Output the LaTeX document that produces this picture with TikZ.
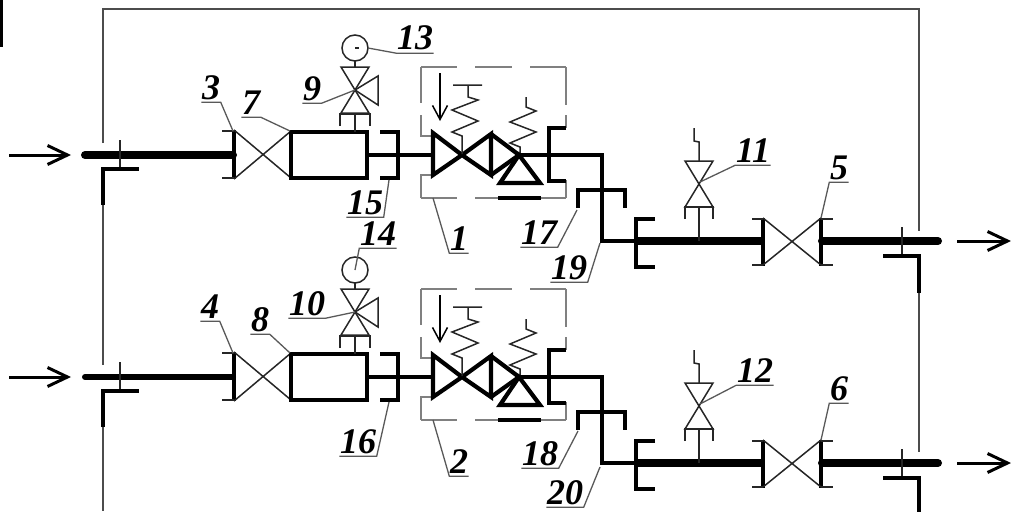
\documentclass[tikz,border=0pt]{standalone}
\usepackage{fontspec}
\setmainfont{Liberation Serif}
\usetikzlibrary{arrows.meta}
\definecolor{linegrey}{gray}{0.3}
\tikzset{
	thinline/.style = {line width=1.5pt, draw=black!85},
	frameline/.style = {line width=1.5pt, draw=linegrey},
	medline/.style = {line width=3.3pt, draw=black},
	heavyline/.style = {line width=4.2pt, draw=black, line join=miter},
	greyline/.style = {line width=1.5pt, draw=black!50},
	bigarrow/.style = {line width=3pt, draw=black, -{Straight Barb[length=20pt,width=19pt,line width=3pt]}},
	numlab/.style = {font=\fontsize{36}{36}\selectfont\bfseries\itshape, inner xsep=0.5pt, inner ysep=3pt, text height=24pt, text depth=0pt, anchor=center},
	leader/.style = {line width=1.3pt, draw=black!65},
	pics/branch/.style = {code={
		% inlet
		\draw[bigarrow] (9,155) -- (71,155);
		\draw[line width=#1pt, line cap=round] (85,155) -- (233,155);
		\draw[thinline] (120,140) -- (120,169);
		\draw[heavyline] (103,205) -- (103,169) -- (139,169);
		% valve and filter
		\draw[heavyline] (234,130) -- (234,179);
		\draw[thinline] (222,131) -- (234,131) (222,178) -- (234,178);
		\draw[thinline] (234,130) -- (291,178) (234,179) -- (291,131);
		\draw[heavyline] (291,132) rectangle (367,178);
		\draw[medline] (367,155) -- (398,155);
		\draw[heavyline] (380,132) -- (398,132) -- (398,178) -- (380,178);
		% gauge
		\draw[thinline] (355,48) circle (13);
		\draw[thinline] (355,61) -- (355,67);
		\draw[thinline] (341,67) -- (369,67) -- (341,113) -- (369,113) -- cycle;
		\draw[thinline] (355,90) -- (378,76) -- (378,105) -- cycle;
		\draw[thinline] (340,126) -- (340,114) -- (370,114) -- (370,126) (355,114) -- (355,132);
		% regulator box
		\draw[greyline] (421,67) -- (457,67) (475,67) -- (512,67) (530,67) -- (566,67);
		\draw[greyline] (421,67) -- (421,103) (421,115) -- (421,137) (421,174) -- (421,198);
		\draw[greyline] (566,67) -- (566,105) (566,115) -- (566,128) (566,180) -- (566,198);
		\draw[greyline] (421,198) -- (457,198) (475,198) -- (498,198) (541,198) -- (566,198);
		\draw[greyline] (421,136) -- (433,136) (421,175) -- (433,175);
		\draw[medline] (398,155) -- (433,155);
		\draw[heavyline] (433,133) -- (462,155) -- (433,175) -- cycle;
		\draw[heavyline] (462,155) -- (491,134) -- (491,175) -- cycle;
		\draw[heavyline] (491,134) -- (519,155) -- (491,175);
		\draw[heavyline] (519,155) -- (540,183) -- (500,183) -- cycle;
		\draw[heavyline] (498,198) -- (541,198);
		\draw[line width=1.5pt, draw=black, -{Straight Barb[length=14pt,width=15pt,line width=1.5pt]}] (440,73) -- (440,121);
		\draw[thinline] (453,85) -- (482,85) (468,85) -- (468,97) -- (478,100) -- (452,110) -- (478,121) -- (452,132) -- (462,136) -- (462,154);
		\draw[thinline] (526,97) -- (526,107) -- (536,111) -- (510,122) -- (536,132) -- (510,143) -- (520,147) -- (520,155);
		% outlet line
		\draw[medline, line join=miter] (519,155) -- (602,155) -- (602,241) -- (636,241);
		\draw[heavyline] (566,128) -- (549,128) -- (549,181) -- (566,181);
		\draw[heavyline] (578,208) -- (578,190) -- (625,190) -- (625,208);
		\draw[heavyline] (655,219) -- (636,219) -- (636,267) -- (655,267);
		\draw[line width=8pt] (636,241) -- (763,241);
		% relief valve
		\draw[thinline] (699,241) -- (699,207);
		\draw[thinline] (685,219) -- (685,207) -- (713,207) -- (713,219);
		\draw[thinline] (685,161) -- (713,161) -- (685,207) -- (713,207) -- cycle;
		\draw[thinline] (699,161) -- (699,142) -- (694,141) -- (694,128);
		% outlet valve
		\draw[heavyline] (763,218) -- (763,266);
		\draw[heavyline] (821,218) -- (821,266);
		\draw[thinline] (752,219) -- (763,219) (752,265) -- (763,265) (821,219) -- (833,219) (821,265) -- (833,265);
		\draw[thinline] (763,218) -- (821,265) (763,265) -- (821,218);
		\draw[line width=8pt, line cap=round] (822,241) -- (938,241);
		\draw[thinline] (902,227) -- (902,255);
		\draw[heavyline] (883,256) -- (919,256) -- (919,293);
		\draw[bigarrow] (957,241) -- (1011,241);
	}}
}
\begin{document}
\begin{tikzpicture}[x=1pt,y=-1pt]
\useasboundingbox (0,0) rectangle (1011,511);
\fill (0,0) rectangle (3,47);
\draw[frameline] (103,143) -- (103,9) -- (919,9) -- (919,231);
\draw[frameline] (103,205) -- (103,365) (103,427) -- (103,511);
\draw[frameline] (919,293) -- (919,452);
\pic at (0,0) {branch=8};
\pic at (0,222) {branch=6};
\draw[thinline] (355,48) -- (359,48);
\node[numlab] (n1) at (459,238) {1};
\node[numlab] (n2) at (459,461) {2};
\node[numlab] (n3) at (211,87) {3};
\node[numlab] (n4) at (210,306) {4};
\node[numlab] (n5) at (839,167) {5};
\node[numlab] (n6) at (839,388) {6};
\node[numlab] (n7) at (251,102) {7};
\node[numlab] (n8) at (260,319) {8};
\node[numlab] (n9) at (312,88) {9};
\node[numlab] (n10) at (307,303) {10};
\node[numlab] (n11) at (753,150) {11};
\node[numlab] (n12) at (755,370) {12};
\node[numlab] (n13) at (415,38) {13};
\node[numlab] (n14) at (378,233) {14};
\node[numlab] (n15) at (365,202) {15};
\node[numlab] (n16) at (358,441) {16};
\node[numlab] (n17) at (539,232) {17};
\node[numlab] (n18) at (540,453) {18};
\node[numlab] (n19) at (569,267) {19};
\node[numlab] (n20) at (565,492) {20};
\draw[leader] (n1.south east) -- (n1.south west) -- (433,198);
\draw[leader] (n2.south east) -- (n2.south west) -- (433,420);
\draw[leader] (n3.south west) -- (n3.south east) -- (233,131);
\draw[leader] (n4.south west) -- (n4.south east) -- (233,353);
\draw[leader] (n5.south east) -- (n5.south west) -- (821,218);
\draw[leader] (n6.south east) -- (n6.south west) -- (821,440);
\draw[leader] (n7.south west) -- (n7.south east) -- (290,131);
\draw[leader] (n8.south west) -- (n8.south east) -- (290,353);
\draw[leader] (n9.south west) -- (n9.south east) -- (355,90);
\draw[leader] (n10.south west) -- (n10.south east) -- (355,312);
\draw[leader] (n11.south east) -- (n11.south west) -- (700,182);
\draw[leader] (n12.south east) -- (n12.south west) -- (700,404);
\draw[leader] (n13.south east) -- (n13.south west) -- (368,48);
\draw[leader] (n14.south east) -- (n14.south west) -- (355,270);
\draw[leader] (n15.south west) -- (n15.south east) -- (389,180);
\draw[leader] (n16.south west) -- (n16.south east) -- (389,402);
\draw[leader] (n17.south west) -- (n17.south east) -- (577,210);
\draw[leader] (n18.south west) -- (n18.south east) -- (578,431);
\draw[leader] (n19.south west) -- (n19.south east) -- (600,243);
\draw[leader] (n20.south west) -- (n20.south east) -- (600,467);
\end{tikzpicture}
\end{document}
